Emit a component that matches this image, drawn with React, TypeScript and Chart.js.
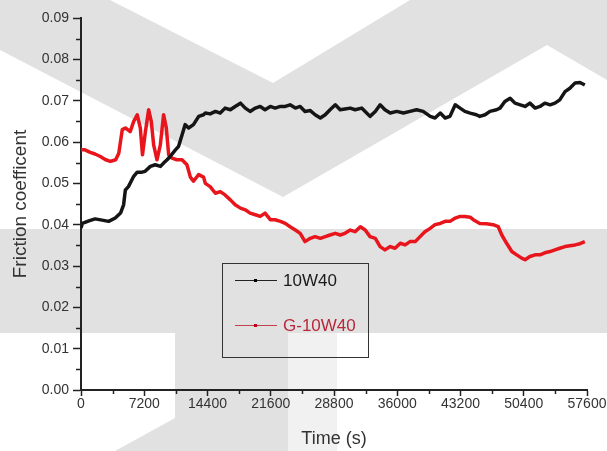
import React, { useEffect, useRef } from "react";
import { Chart, registerables } from "chart.js";

Chart.register(...registerables);

// ---- data ----
const SERIES_NAMES = ["10W40", "G-10W40"];

const TIME_10W40 = [0,150,900,1600,2400,3150,3900,4500,4850,5050,5400,6000,6400,6950,7300,7900,8450,9050,9400,9800,10150,10750,11100,11500,11850,12250,12800,13400,13950,14150,14700,15300,15850,16400,17000,17550,18150,18700,19250,19850,20400,20950,21550,22100,22700,23250,23800,24400,24950,25500,26100,26650,27250,27800,28350,28950,29500,30050,30650,31200,31950,32900,33500,34050,34600,35200,35950,36700,37450,38200,38950,39750,40300,40900,41450,42000,42600,43150,43700,44300,45000,45400,46000,46550,47300,47700,48250,48850,49400,50000,50550,51100,51700,52250,52800,53400,53950,54500,55100,55650,56250,56800,57350];
const COF_10W40 = [0.0392,0.0403,0.0409,0.0414,0.0411,0.0408,0.0416,0.0428,0.0448,0.0484,0.0492,0.0517,0.0527,0.0527,0.0529,0.0541,0.0545,0.0541,0.0549,0.0557,0.0565,0.0581,0.0589,0.0617,0.0642,0.0634,0.0642,0.0662,0.0666,0.0670,0.0668,0.0674,0.0670,0.0682,0.0678,0.0686,0.0694,0.0682,0.0674,0.0682,0.0686,0.0678,0.0686,0.0682,0.0686,0.0686,0.0690,0.0682,0.0686,0.0674,0.0676,0.0666,0.0658,0.0666,0.0678,0.0690,0.0678,0.0680,0.0682,0.0678,0.0682,0.0662,0.0674,0.0690,0.0678,0.0670,0.0674,0.0670,0.0674,0.0678,0.0674,0.0662,0.0658,0.0670,0.0658,0.0662,0.0690,0.0682,0.0674,0.0670,0.0666,0.0662,0.0666,0.0674,0.0678,0.0682,0.0698,0.0706,0.0694,0.0690,0.0686,0.0694,0.0682,0.0686,0.0694,0.0690,0.0694,0.0702,0.0722,0.0730,0.0743,0.0744,0.0738];

const TIME_G10W40 = [0,450,1050,1600,2200,2800,3350,3950,4300,4700,5050,5600,6000,6400,6750,7000,7330,7700,8000,8270,8650,9030,9400,9710,9980,10350,10920,11500,12060,12450,12800,13390,13950,14150,14700,15300,15850,16400,17000,17550,18150,18700,19250,19850,20400,20950,21550,22100,22700,23250,23800,24400,24950,25500,26100,26650,27250,27800,28350,28950,29500,30050,30650,31200,31800,32350,32900,33500,34050,34600,35200,35750,36350,36900,37450,38050,38600,39150,39750,40300,40900,41450,42000,42600,43150,43700,44300,44650,45400,46150,46900,47500,47900,48450,49040,49600,50170,50550,51100,51700,52250,52800,53400,53950,54500,55100,55650,56250,56800,57350];
const COF_G10W40 = [0.0581,0.0581,0.0575,0.0571,0.0565,0.0557,0.0553,0.0557,0.0573,0.0630,0.0634,0.0625,0.0650,0.0666,0.0634,0.0569,0.0625,0.0678,0.0650,0.0593,0.0557,0.0593,0.0666,0.0634,0.0569,0.0561,0.0557,0.0557,0.0545,0.0515,0.0505,0.0521,0.0515,0.0500,0.0492,0.0476,0.0480,0.0472,0.0460,0.0448,0.0440,0.0436,0.0428,0.0424,0.0420,0.0428,0.0412,0.0412,0.0408,0.0403,0.0395,0.0387,0.0379,0.0359,0.0367,0.0371,0.0367,0.0371,0.0375,0.0379,0.0375,0.0379,0.0387,0.0383,0.0395,0.0387,0.0371,0.0367,0.0347,0.0339,0.0347,0.0343,0.0355,0.0351,0.0359,0.0359,0.0371,0.0383,0.0391,0.0400,0.0403,0.0408,0.0408,0.0416,0.0420,0.0420,0.0418,0.0412,0.0403,0.0402,0.0400,0.0395,0.0375,0.0355,0.0335,0.0327,0.0319,0.0315,0.0323,0.0327,0.0327,0.0332,0.0335,0.0339,0.0343,0.0347,0.0349,0.0351,0.0354,0.0359];

const X_TICKS = [0, 7200, 14400, 21600, 28800, 36000, 43200, 50400, 57600];
const Y_TICKS = [0, 0.01, 0.02, 0.03, 0.04, 0.05, 0.06, 0.07, 0.08, 0.09];

const X_TITLE = "Time (s)";
const Y_TITLE = "Friction coefficent";

const COLORS = ["#151515", "#e8161c"];
const LEGEND_LINE_COLORS = ["#222222", "#c4404c"];
const LEGEND_TEXT_COLORS = ["#1a1a1a", "#b8283a"];
const FONT = "Arial, 'Liberation Sans', sans-serif";

// decorative watermark in the background
const watermarkPlugin = {
  id: "watermark",
  beforeDraw(chart: any) {
    const { ctx, width, height } = chart;
    ctx.save();
    ctx.fillStyle = "#ffffff";
    ctx.fillRect(0, 0, width, height);
    const poly = (pts: number[][], color: string) => {
      ctx.fillStyle = color;
      ctx.beginPath();
      pts.forEach((p, i) => (i ? ctx.lineTo(p[0], p[1]) : ctx.moveTo(p[0], p[1])));
      ctx.closePath();
      ctx.fill();
    };
    const g = "#e1e1e1";
    poly([[0, 0], [110, 0], [273, 83], [410, 0], [607, 0], [607, 80], [547, 45], [283, 197], [0, 50]], g);
    poly([[0, 229], [607, 229], [607, 333], [0, 333]], g);
    poly([[175, 333], [288, 333], [288, 451], [115, 451], [175, 418]], g);
    poly([[288, 333], [337, 333], [337, 451], [288, 451]], "#f1f1f1");
    ctx.restore();
  },
};

const minorTickPlugin = {
  id: "minorTicks",
  afterDraw(chart: any) {
    const { ctx } = chart;
    const xs = chart.scales.x;
    const ys = chart.scales.y;
    ctx.save();
    ctx.strokeStyle = "#222";
    ctx.lineWidth = 1.5;
    for (let i = 0; i < X_TICKS.length - 1; i++) {
      const px = Math.round(xs.getPixelForValue((X_TICKS[i] + X_TICKS[i + 1]) / 2)) + 0.5;
      ctx.beginPath();
      ctx.moveTo(px, ys.bottom);
      ctx.lineTo(px, ys.bottom + 4);
      ctx.stroke();
    }
    for (let i = 0; i < Y_TICKS.length - 1; i++) {
      const py = Math.round(ys.getPixelForValue((Y_TICKS[i] + Y_TICKS[i + 1]) / 2)) + 0.5;
      ctx.beginPath();
      ctx.moveTo(xs.left, py);
      ctx.lineTo(xs.left - 5, py);
      ctx.stroke();
    }
    ctx.restore();
  },
};

const boxLegendPlugin = {
  id: "boxLegend",
  afterDraw(chart: any) {
    const { ctx } = chart;
    ctx.save();
    ctx.strokeStyle = "#333";
    ctx.lineWidth = 1;
    ctx.strokeRect(222.5, 263.5, 146, 94);
    const rows = [280, 325];
    SERIES_NAMES.forEach((name, i) => {
      const y = rows[i];
      ctx.strokeStyle = LEGEND_LINE_COLORS[i];
      ctx.lineWidth = 1;
      ctx.beginPath();
      ctx.moveTo(235, y + 0.5);
      ctx.lineTo(277, y + 0.5);
      ctx.stroke();
      ctx.fillStyle = i === 0 ? "#000" : "#c00010";
      ctx.fillRect(254, y - 1, 3, 3);
      ctx.fillStyle = LEGEND_TEXT_COLORS[i];
      ctx.font = `17px ${FONT}`;
      ctx.textBaseline = "middle";
      ctx.textAlign = "left";
      ctx.fillText(name, 283, y + 1);
    });
    ctx.restore();
  },
};

export default function App() {
  const ref = useRef<HTMLCanvasElement>(null);
  useEffect(() => {
    if (!ref.current) return;
    const chart = new Chart(ref.current, {
      type: "line",
      data: {
        datasets: [
          {
            label: SERIES_NAMES[0],
            data: TIME_10W40.map((t, i) => ({ x: t, y: COF_10W40[i] })),
            borderColor: COLORS[0],
            backgroundColor: COLORS[0],
          },
          {
            label: SERIES_NAMES[1],
            data: TIME_G10W40.map((t, i) => ({ x: t, y: COF_G10W40[i] })),
            borderColor: COLORS[1],
            backgroundColor: COLORS[1],
          },
        ],
      },
      options: {
        animation: false,
        responsive: false,
        devicePixelRatio: 1,
        layout: { padding: { top: 18, right: 20, left: 0, bottom: 0 } },
        elements: {
          point: { radius: 0 },
          line: { tension: 0, borderWidth: 3.5, borderJoinStyle: "round" },
        },
        plugins: { legend: { display: false }, tooltip: { enabled: false } },
        scales: {
          x: {
            type: "linear",
            min: 0,
            max: 57600,
            afterBuildTicks: (s: any) => {
              s.ticks = X_TICKS.map((v) => ({ value: v }));
            },
            afterFit: (s: any) => {
              s.height = 61;
            },
            ticks: {
              autoSkip: false,
              maxRotation: 0,
              padding: 0,
              color: "#333",
              font: { family: FONT, size: 14 },
              callback: (v: any) => String(v),
            },
            grid: { drawOnChartArea: false, tickLength: 6, tickColor: "#222", tickWidth: 1.5 },
            border: { color: "#222", width: 2 },
            title: {
              display: true,
              text: X_TITLE,
              color: "#333",
              font: { family: FONT, size: 18 },
              padding: { top: 0, bottom: 1 },
            },
          },
          y: {
            type: "linear",
            min: 0,
            max: 0.09,
            afterBuildTicks: (s: any) => {
              s.ticks = Y_TICKS.map((v) => ({ value: v }));
            },
            afterFit: (s: any) => {
              s.width = 81;
            },
            ticks: {
              padding: 4,
              color: "#333",
              font: { family: FONT, size: 14 },
              callback: (v: any) => Number(v).toFixed(2),
            },
            grid: { drawOnChartArea: false, tickLength: 8, tickColor: "#222", tickWidth: 1.5 },
            border: { color: "#222", width: 2 },
            title: {
              display: true,
              text: Y_TITLE,
              color: "#333",
              font: { family: FONT, size: 19 },
              padding: { top: 9, bottom: 0 },
            },
          },
        },
      },
      plugins: [watermarkPlugin, minorTickPlugin, boxLegendPlugin],
    } as any);
    return () => chart.destroy();
  }, []);
  return (
    <div style={{ position: "fixed", left: 0, top: 0, width: 607, height: 451 }}>
      <canvas ref={ref} width={607} height={451} style={{ width: 607, height: 451 }} />
    </div>
  );
}
